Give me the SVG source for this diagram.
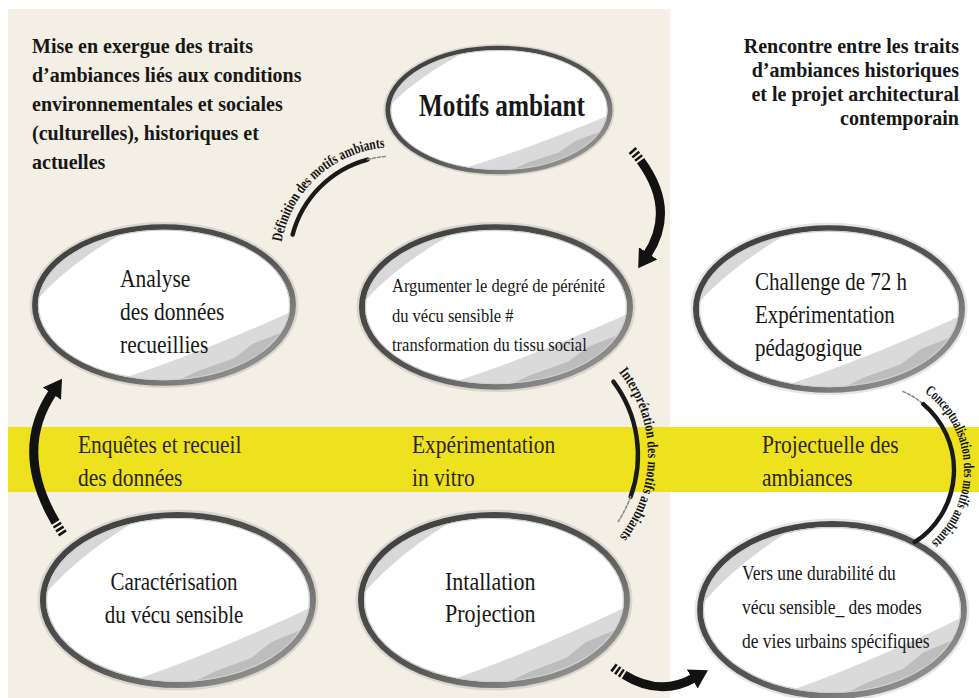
<svg xmlns="http://www.w3.org/2000/svg" xmlns:xlink="http://www.w3.org/1999/xlink" width="979" height="698" viewBox="0 0 979 698">
<style>
.t{font-family:"Liberation Serif","Times New Roman",serif;fill:#171717}
.title{font-weight:bold;font-size:20px}
.band{font-size:25px;fill:#2b2614}
.arc{font-family:"Liberation Serif","Times New Roman",serif;font-weight:bold;font-size:15px;fill:#141414}
.arrow{fill:none;stroke:#121212;stroke-width:9;stroke-dasharray:2.5 2 2.5 2 2.5 2 600}
.brush{fill:none;stroke:#1a1a1a;stroke-width:4.4;stroke-linecap:round}
.faint{fill:none;stroke:#8a8a8a;stroke-width:1.6;stroke-dasharray:3 2;stroke-linecap:round}
</style>
<defs>
<linearGradient id="rim" x1="0" y1="0" x2="1" y2="1">
<stop offset="0" stop-color="#3c3c3c"/>
<stop offset="0.55" stop-color="#555"/>
<stop offset="1" stop-color="#a8a8a8"/>
</linearGradient>
<clipPath id="lensClip"><ellipse cx="0" cy="0" rx="133" ry="85"/></clipPath>
<g id="lens">
<ellipse rx="136.5" ry="88.5" fill="none" stroke="#000" stroke-opacity="0.1" stroke-width="4"/>
<g clip-path="url(#lensClip)">
<rect x="-140" y="-90" width="280" height="180" fill="#fff"/>
<path d="M-140 -4 L-130 -7 Q-95 -48 -30 -86 L-140 -92 Z" fill="#d8d8d8"/>
<path d="M-30 -86 L10 -88 L-40 -78 Z" fill="#e6e6e6"/>
<path d="M-75 92 L-55 84 Q25 58 134 6 L142 92 Z" fill="#dadada"/>
<path d="M-5 92 L35 72 L72 58 L92 42 L140 22 L142 92 Z" fill="#bdbdbd"/>
<path d="M55 92 L98 52 L140 38 L142 92 Z" fill="#a0a0a0"/>
</g>
<ellipse rx="133" ry="85" fill="none" stroke="url(#rim)" stroke-width="6"/>
<ellipse rx="129.5" ry="81.5" fill="none" stroke="#cfcfcf" stroke-width="1.2"/>
</g>
<marker id="head" markerUnits="userSpaceOnUse" markerWidth="24" markerHeight="24" viewBox="0 0 24 24" refX="2" refY="12" orient="auto">
<path d="M0 1 L18 12 L0 23 Z" fill="#121212"/>
</marker>
</defs>

<rect x="0" y="0" width="979" height="698" fill="#fff"/>
<rect x="8" y="9" width="662" height="689" fill="#f3efe4"/>
<rect x="8" y="427" width="971" height="65" fill="#eee21f"/>

<g id="title-left" class="t title">
<text x="32" y="53">Mise en exergue des traits</text>
<text x="32" y="82">d’ambiances liés aux conditions</text>
<text x="32" y="111">environnementales et sociales</text>
<text x="32" y="140">(culturelles), historiques et</text>
<text x="32" y="169">actuelles</text>
</g>
<g id="title-right" class="t title" text-anchor="end">
<text x="959" y="53">Rencontre entre les traits</text>
<text x="959" y="77">d’ambiances historiques</text>
<text x="959" y="101">et le projet architectural</text>
<text x="959" y="125">contemporain</text>
</g>

<g id="band-labels" class="t band">
<g transform="translate(78 0) scale(0.86 1)">
<text x="0" y="453">Enquêtes et recueil</text>
<text x="0" y="486">des données</text>
</g>
<g transform="translate(412 0) scale(0.86 1)">
<text x="0" y="453">Expérimentation</text>
<text x="0" y="486">in vitro</text>
</g>
<g transform="translate(762 0) scale(0.86 1)">
<text x="0" y="453">Projectuelle des</text>
<text x="0" y="486">ambiances</text>
</g>
</g>

<g id="node-motifs">
<use xlink:href="#lens" transform="translate(499 110) scale(0.835 0.73)"/>
<text class="t" x="502" y="116" text-anchor="middle" font-weight="bold" font-size="31" textLength="166" lengthAdjust="spacingAndGlyphs">Motifs ambiant</text>
</g>
<g id="node-analyse">
<use xlink:href="#lens" transform="translate(164 305) scale(0.97 0.918)"/>
<g class="t" font-size="25" transform="translate(120 0) scale(0.86 1)">
<text x="0" y="287">Analyse</text>
<text x="0" y="320">des données</text>
<text x="0" y="353">recueillies</text>
</g>
</g>
<g id="node-argumenter">
<use xlink:href="#lens" transform="translate(496 307) scale(1.0075 0.94)"/>
<g class="t" font-size="19.2" transform="translate(392 0) scale(0.86 1)">
<text x="0" y="292">Argumenter le degré de pérénité</text>
<text x="0" y="322">du vécu sensible #</text>
<text x="0" y="351">transformation du tissu social</text>
</g>
</g>
<g id="node-challenge">
<use xlink:href="#lens" transform="translate(829 309) scale(1 0.953)"/>
<g class="t" font-size="24.4" transform="translate(755 0) scale(0.86 1)">
<text x="0" y="290">Challenge de 72 h</text>
<text x="0" y="323">Expérimentation</text>
<text x="0" y="356">pédagogique</text>
</g>
</g>
<g id="node-caracterisation">
<use xlink:href="#lens" transform="translate(178 600) scale(1.015 1)"/>
<g class="t" font-size="24.4" text-anchor="middle" transform="translate(174 0) scale(0.86 1)">
<text x="0" y="590">Caractérisation</text>
<text x="0" y="623">du vécu sensible</text>
</g>
</g>
<g id="node-installation">
<use xlink:href="#lens" transform="translate(494 600)"/>
<g class="t" font-size="25.6" transform="translate(445 0) scale(0.86 1)">
<text x="0" y="590">Intallation</text>
<text x="0" y="622">Projection</text>
</g>
</g>
<g id="node-durabilite">
<use xlink:href="#lens" transform="translate(832 610) scale(0.992 1.012)"/>
<g class="t" font-size="20.3" transform="translate(742 0) scale(0.86 1)">
<text x="0" y="580">Vers une durabilité du</text>
<text x="0" y="614">vécu sensible_ des modes</text>
<text x="0" y="648">de vies urbains spécifiques</text>
</g>
</g>

<g id="connectors">
<path class="arrow" d="M63 534 Q10 455 53 392" marker-end="url(#head)"/>
<path class="arrow" d="M632 150 Q680 205 647 255" marker-end="url(#head)"/>
<path class="arrow" d="M613 667 Q655 700 694 678" marker-end="url(#head)"/>

<path class="brush" d="M292.6 234.6 A106 106 0 0 1 367.6 159.6"/>
<path class="faint" d="M367.6 159.6 A106 106 0 0 1 385.8 156.4"/>
<path id="arc1" d="M281.7 242 A115 115 0 0 1 387 147.3" fill="none"/>
<text class="arc"><textPath xlink:href="#arc1" textLength="150" lengthAdjust="spacingAndGlyphs">Définition des motifs ambiants</textPath></text>

<path class="brush" d="M613.4 381.6 A122 122 0 0 1 630.6 496.7"/>
<path class="faint" d="M630.6 496.7 A122 122 0 0 1 618.3 521.5"/>
<path id="arc2" d="M618.6 372 A132 132 0 0 1 617.1 539.9" fill="none"/>
<text class="arc"><textPath xlink:href="#arc2" textLength="178" lengthAdjust="spacingAndGlyphs">Interprétation des motifs ambiants</textPath></text>

<path class="faint" d="M903 391.4 A86 86 0 0 1 923.3 404.1"/>
<path class="brush" d="M923.3 404.1 A86 86 0 0 1 914.8 542.1"/>
<path id="arc3" d="M924.4 392.3 A96 96 0 0 1 927.1 545.6" fill="none"/>
<text class="arc" font-size="14"><textPath xlink:href="#arc3" textLength="172" lengthAdjust="spacingAndGlyphs">Conceptualisation des motifs ambiants</textPath></text>
</g>
</svg>
